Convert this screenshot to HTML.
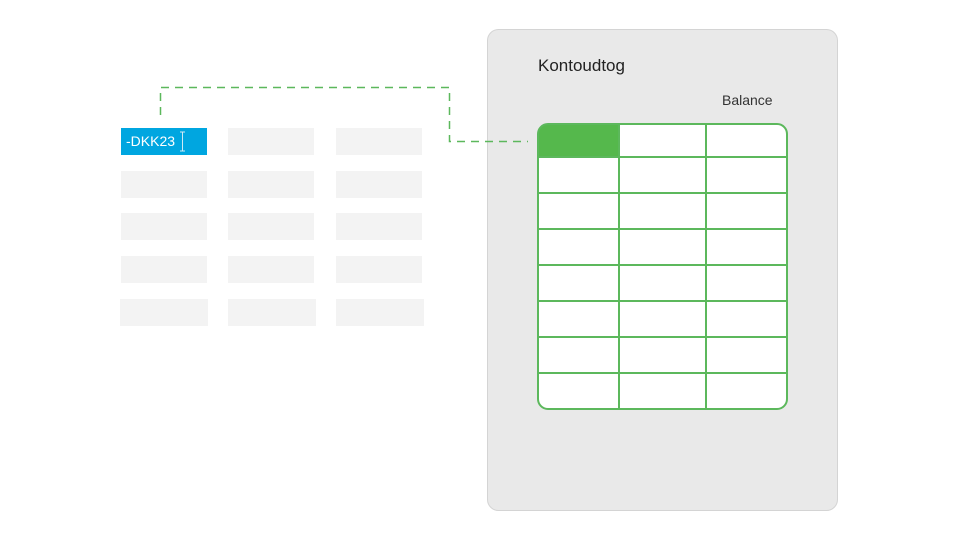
<!DOCTYPE html>
<html><head><meta charset="utf-8"><style>
body{margin:0;width:958px;height:540px;background:#fff;position:relative;overflow:hidden;font-family:"Liberation Sans",sans-serif}
.c{position:absolute;background:#f3f3f3;height:27px}
</style></head><body>
<div class="c" style="left:121px;top:128px;width:86px;background:#00a6e0"></div>
<div style="position:absolute;left:126px;top:133px;color:#fff;font-size:14px">-DKK23</div>
<div class="c" style="left:228px;top:128px;width:86px"></div>
<div class="c" style="left:336px;top:128px;width:86px"></div>
<div class="c" style="left:121px;top:171px;width:86px"></div>
<div class="c" style="left:228px;top:171px;width:86px"></div>
<div class="c" style="left:336px;top:171px;width:86px"></div>
<div class="c" style="left:121px;top:213px;width:86px"></div>
<div class="c" style="left:228px;top:213px;width:86px"></div>
<div class="c" style="left:336px;top:213px;width:86px"></div>
<div class="c" style="left:121px;top:256px;width:86px"></div>
<div class="c" style="left:228px;top:256px;width:86px"></div>
<div class="c" style="left:336px;top:256px;width:86px"></div>
<div class="c" style="left:120px;top:299px;width:88px"></div>
<div class="c" style="left:228px;top:299px;width:88px"></div>
<div class="c" style="left:336px;top:299px;width:88px"></div>
<svg width="958" height="540" style="position:absolute;left:0;top:0">
<rect x="487.5" y="29.5" width="350" height="481" rx="11" fill="#e9e9e9" stroke="#d4d4d4"/>
<path d="M160.5 115 V87.5 H449.5 V141.5 H528" fill="none" stroke="#5cb85c" stroke-width="1.5" stroke-dasharray="8,6"/>
<path d="M182.5 132V151M180 132H185M180 151H185" stroke="#cfe9f5" stroke-width="1" fill="none"/>
<rect x="538" y="124" width="249" height="285" rx="10" fill="#fff"/>
<path d="M548 124 H619 V157 H538 V134 A10 10 0 0 1 548 124Z" fill="#55b84c"/>
<g stroke="#5cb85c" stroke-width="2" fill="none">
<rect x="538" y="124" width="249" height="285" rx="10"/>
<path d="M619 124V409M706 124V409M538 157H787M538 193H787M538 229H787M538 265H787M538 301H787M538 337H787M538 373H787"/>
</g>
</svg>
<div style="position:absolute;left:538px;top:56px;font-size:17px;color:#222">Kontoudtog</div>
<div style="position:absolute;left:722px;top:92px;font-size:14px;color:#333">Balance</div>
</body></html>
